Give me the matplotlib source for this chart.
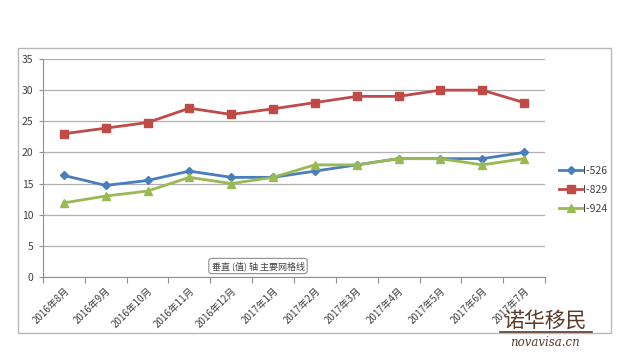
import matplotlib.pyplot as plt
from matplotlib.patches import Rectangle

plt.rcParams['font.family'] = ['Noto Sans CJK SC', 'DejaVu Sans']

# 数据
months = ['2016年8月', '2016年9月', '2016年10月', '2016年11月', '2016年12月', '2017年1月',
          '2017年2月', '2017年3月', '2017年4月', '2017年5月', '2017年6月', '2017年7月']
i526 = [16.3, 14.7, 15.5, 17, 16, 16, 17, 18, 19, 19, 19, 20]
i829 = [23, 23.9, 24.8, 27.1, 26.1, 27, 28, 29, 29, 30, 30, 28]
i924 = [11.9, 13, 13.8, 16, 15, 16, 18, 18, 19, 19, 18, 19]
yticks = [0, 5, 10, 15, 20, 25, 30, 35]

fig = plt.figure(figsize=(6.26, 3.62), dpi=100)

# 外框
fig.patches.append(Rectangle((18/626, 1-333/362), (611-18)/626, (333-48)/362,
                             transform=fig.transFigure, fill=False,
                             edgecolor='#b8b8b8', linewidth=1))

ax = fig.add_axes([43/626, 1-277/362, (545-43)/626, (277-59)/362])
x = list(range(len(months)))

ax.plot(x, i526, color='#4a7ebb', lw=2, marker='D', ms=4, label='I-526')
ax.plot(x, i829, color='#be4b48', lw=2, marker='s', ms=5.5, label='I-829')
ax.plot(x, i924, color='#98b954', lw=2, marker='^', ms=6, label='I-924')

ax.set_xlim(-0.5, len(months) - 0.5)
ax.set_ylim(0, 35)
ax.set_yticks(yticks)
ax.grid(axis='y', color='#b0b0b0', lw=0.9)
ax.set_axisbelow(True)

ax.set_xticks([i - 0.5 for i in range(len(months) + 1)])
ax.set_xticklabels([])
ax.set_xticks(x, minor=True)
ax.set_xticklabels(months, minor=True, rotation=45, ha='right', rotation_mode='anchor',
                   fontsize=7, color='#404040')
ax.tick_params(axis='x', which='minor', length=0, pad=6)
ax.tick_params(axis='x', which='major', length=4, color='#909090', direction='out')
ax.tick_params(axis='y', length=3, color='#909090', labelsize=7.5, labelcolor='#404040', pad=4)

for s in ['top', 'right']:
    ax.spines[s].set_visible(False)
for s in ['left', 'bottom']:
    ax.spines[s].set_color('#909090')

ax.legend(loc='center left', bbox_to_anchor=(1.01, 0.40), frameon=False, fontsize=7.5,
          handlelength=2.2, handletextpad=0.1, labelspacing=0.85, labelcolor='#404040')

# 提示框
fig.text(258/626, 1-266/362, '垂直 (值) 轴 主要网格线', fontsize=6.5, color='#404040',
         ha='center', va='center',
         bbox=dict(boxstyle='round,pad=0.3', fc='white', ec='#909090', lw=0.8))

# 水印
fig.text(545/626, 1-321/362, '诺华移民', fontsize=15, color='#5a3a28', ha='center', va='center')
fig.add_artist(plt.Line2D([500/626, 592/626], [1-332/362, 1-332/362],
                          transform=fig.transFigure, color='#5a3a28', lw=1.2))
fig.text(545/626, 1-342/362, 'novavisa.cn', fontsize=8.5, color='#5a3a28', ha='center',
         va='center', style='italic', family='DejaVu Serif')

fig.savefig('out.png', dpi=100)
